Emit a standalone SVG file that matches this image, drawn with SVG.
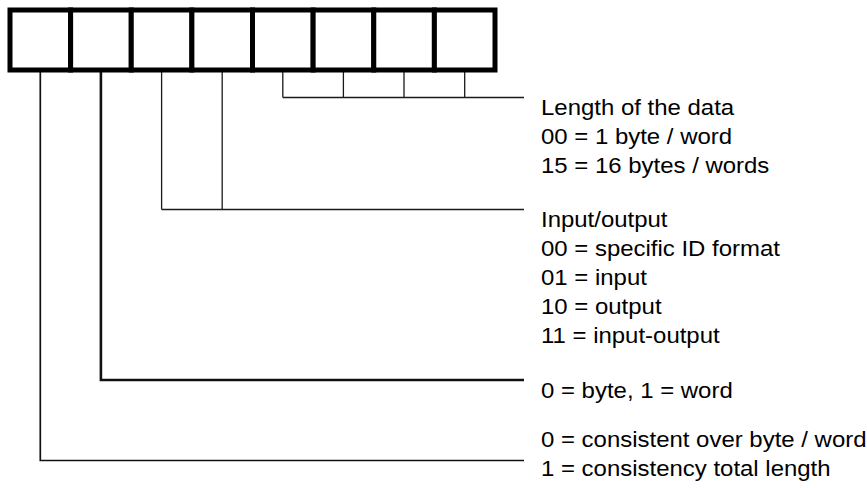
<svg xmlns="http://www.w3.org/2000/svg" width="867" height="488" viewBox="0 0 867 488">
<style>
.box{fill:#fff;stroke:#000;stroke-width:5}
.c{fill:none;stroke:#1a1a1a;stroke-width:1.3}
.ct{fill:none;stroke:#111;stroke-width:2.6}
.cm{fill:none;stroke:#111;stroke-width:1.7}
.t{font-family:"Liberation Sans",Arial,sans-serif;font-size:21.5px;fill:#000}
</style>
<rect width="867" height="488" fill="#fff"/>
<g id="connectors">
<path class="c" d="M282.8 72V97.5M343.4 72V97.5M404 72V97.5M464.7 72V97.5M282.8 97.5H524"/>
<path class="c" d="M161.6 72V209.5M222.2 72V209.5M161.6 209.5H524"/>
<path class="ct" d="M100.9 72V380H524"/>
<path class="cm" d="M40.3 72V460.5H524"/>
</g>
<g id="bit7"><rect class="box" x="10" y="10" width="60.625" height="60"/></g>
<g id="bit6"><rect class="box" x="70.625" y="10" width="60.625" height="60"/></g>
<g id="bit5"><rect class="box" x="131.25" y="10" width="60.625" height="60"/></g>
<g id="bit4"><rect class="box" x="191.875" y="10" width="60.625" height="60"/></g>
<g id="bit3"><rect class="box" x="252.5" y="10" width="60.625" height="60"/></g>
<g id="bit2"><rect class="box" x="313.125" y="10" width="60.625" height="60"/></g>
<g id="bit1"><rect class="box" x="373.75" y="10" width="60.625" height="60"/></g>
<g id="bit0"><rect class="box" x="434.375" y="10" width="60.625" height="60"/></g>
<g id="label-length" transform="translate(541,0) scale(1.115,1)">
<text class="t" x="0" y="115">Length of the data</text>
<text class="t" x="0" y="144">00 = 1 byte / word</text>
<text class="t" x="0" y="173">15 = 16 bytes / words</text>
</g>
<g id="label-io" transform="translate(541,0) scale(1.115,1)">
<text class="t" x="0" y="227">Input/output</text>
<text class="t" x="0" y="256">00 = specific ID format</text>
<text class="t" x="0" y="285">01 = input</text>
<text class="t" x="0" y="314">10 = output</text>
<text class="t" x="0" y="343">11 = input-output</text>
</g>
<g id="label-byte" transform="translate(541,0) scale(1.115,1)">
<text class="t" x="0" y="398">0 = byte, 1 = word</text>
</g>
<g id="label-consistency" transform="translate(541,0) scale(1.115,1)">
<text class="t" x="0" y="447">0 = consistent over byte / word</text>
<text class="t" x="0" y="476">1 = consistency total length</text>
</g>
</svg>
